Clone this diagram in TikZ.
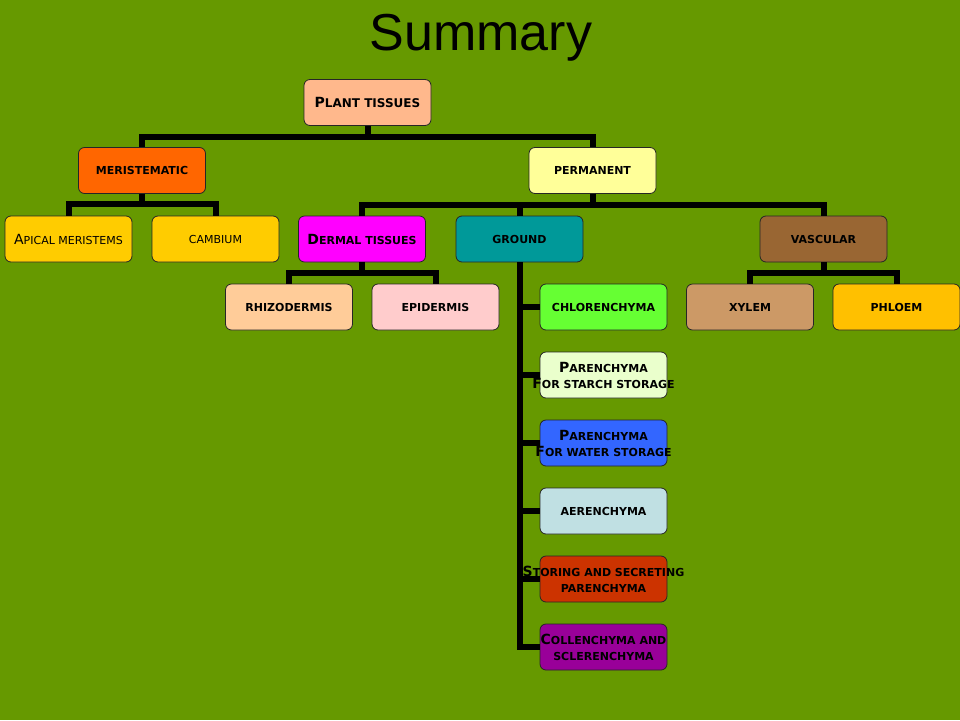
\documentclass[tikz,border=0pt]{standalone}
\usepackage{fontspec}
\usepackage{tikz}
\newfontfamily\titlefont{Liberation Sans}
\newfontfamily\copperfont{DejaVu Sans}
\definecolor{slidegreen}{HTML}{669900}
\definecolor{peach}{HTML}{FFB88C}
\definecolor{meristorange}{HTML}{FF6600}
\definecolor{palelemon}{HTML}{FFFF99}
\definecolor{goldyellow}{HTML}{FFCC00}
\definecolor{dermalpink}{HTML}{FF00FF}
\definecolor{groundteal}{HTML}{009999}
\definecolor{vascbrown}{HTML}{996633}
\definecolor{rhizotan}{HTML}{FFCC99}
\definecolor{epidrose}{HTML}{FFCCCC}
\definecolor{chlorgreen}{HTML}{66FF33}
\definecolor{xylemtan}{HTML}{CC9966}
\definecolor{phloemamber}{HTML}{FFC000}
\definecolor{starchcream}{HTML}{EAFFCC}
\definecolor{waterblue}{HTML}{3366FF}
\definecolor{aerenblue}{HTML}{C0E0E3}
\definecolor{storingred}{HTML}{CC3300}
\definecolor{collenpurple}{HTML}{990099}
\newcommand\capit[2]{{\fontsize{14}{16}\selectfont #1}#2}
\newcommand\oneline[1]{\makebox[0pt]{#1}}
\tikzset{
  tissue/.style={draw=black!85, line width=0.8pt, rounded corners=6pt,
    minimum width=127pt, minimum height=46pt, inner sep=0pt, align=center,
    font=\copperfont\bfseries\fontsize{11}{16}\selectfont},
  lighttext/.style={font=\copperfont\fontsize{11}{16}\selectfont},
  link/.style={draw=black, line width=6pt},
}

\begin{document}
\begin{tikzpicture}[x=1pt, y=-1pt]
    \fill[slidegreen] (0,0) rectangle (960,720);
    \useasboundingbox (0,0) rectangle (960,720);
    \node[anchor=base, font=\titlefont\fontsize{52}{56}\selectfont] (title) at (481,50) {Summary};

    % top levels
    \node[tissue, fill=peach, font=\copperfont\bfseries\fontsize{12}{16}\selectfont] (plant) at (367.5,102.5) {\capit{P}{LANT TISSUES}};
    \node[tissue, fill=meristorange] (merist) at (142,170.5) {MERISTEMATIC};
    \node[tissue, fill=palelemon] (perm) at (592.5,170.5) {PERMANENT};

    \node[tissue, lighttext, fill=goldyellow] (apical) at (68.5,239) {\capit{A}{PICAL MERISTEMS}};
    \node[tissue, lighttext, fill=goldyellow] (cambium) at (215.5,239) {CAMBIUM};
    \node[tissue, fill=dermalpink] (dermal) at (362,239) {\capit{D}{ERMAL TISSUES}};
    \node[tissue, fill=groundteal] (ground) at (519.5,239) {GROUND};
    \node[tissue, fill=vascbrown] (vasc) at (823.5,239) {VASCULAR};

    \node[tissue, fill=rhizotan] (rhizo) at (289,307) {RHIZODERMIS};
    \node[tissue, fill=epidrose] (epid) at (435.5,307) {EPIDERMIS};
    \node[tissue, fill=xylemtan] (xylem) at (750,307) {XYLEM};
    \node[tissue, fill=phloemamber] (phloem) at (896.5,307) {PHLOEM};

    % ground tissue column
    \node[tissue, fill=chlorgreen] (chloren) at (603.5,307) {CHLORENCHYMA};
    \node[tissue, fill=starchcream] (parstarch) at (603.5,375) {\oneline{\capit{P}{ARENCHYMA}}\\ \oneline{\capit{F}{OR STARCH STORAGE}}};
    \node[tissue, fill=waterblue] (parwater) at (603.5,443) {\oneline{\capit{P}{ARENCHYMA}}\\ \oneline{\capit{F}{OR WATER STORAGE}}};
    \node[tissue, fill=aerenblue] (aeren) at (603.5,511) {AERENCHYMA};
    \node[tissue, fill=storingred] (storing) at (603.5,579) {\oneline{\capit{S}{TORING AND SECRETING}}\\ \oneline{PARENCHYMA}};
    \node[tissue, fill=collenpurple] (collen) at (603.5,647) {\oneline{\capit{C}{OLLENCHYMA AND}}\\ \oneline{SCLERENCHYMA}};

    % connectors
    \draw[link] (plant.south) -- ++(0,11) -| (merist.north);
    \draw[link] (plant.south) -- ++(0,11) -| (perm.north);
    \draw[link] (merist.south) -- ++(0,10) -| (apical.north);
    \draw[link] (merist.south) -- ++(0,10) -| (cambium.north);
    \draw[link] (perm.south) -- ++(0,11) -| (dermal.north);
    \draw[link] (perm.south) -- ++(0,11) -| (ground.north);
    \draw[link] (perm.south) -- ++(0,11) -| (vasc.north);
    \draw[link] (dermal.south) -- ++(0,11) -| (rhizo.north);
    \draw[link] (dermal.south) -- ++(0,11) -| (epid.north);
    \draw[link] (vasc.south) -- ++(0,11) -| (xylem.north);
    \draw[link] (vasc.south) -- ++(0,11) -| (phloem.north);
    \foreach \kid in {chloren,parstarch,parwater,aeren,storing,collen}
        \draw[link] (ground.south) |- (\kid.west);
\end{tikzpicture}
\end{document}
